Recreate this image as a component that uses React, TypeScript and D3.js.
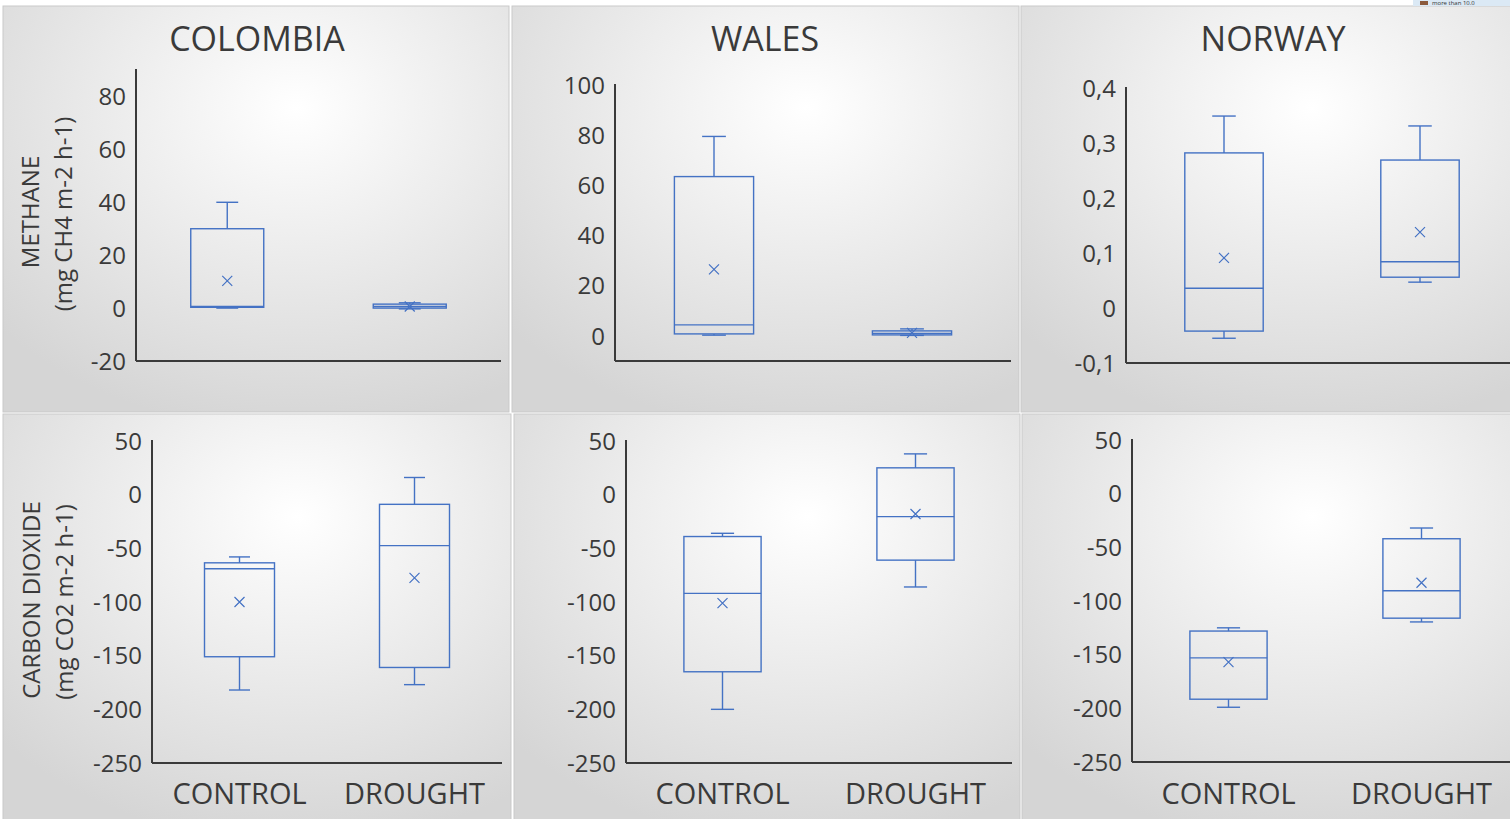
import * as d3 from "d3";

type Stat = { min: number; q1: number; median: number; q3: number; max: number; mean: number };

const countries = ["COLOMBIA", "WALES", "NORWAY"];
const categories = ["CONTROL", "DROUGHT"];

// methane (mg CH4 m-2 h-1)
const methaneColombia: Stat[] = [
  { min: 0, q1: 0.3, median: 0.6, q3: 30, max: 40, mean: 10.3 },
  { min: -0.3, q1: 0, median: 0.6, q3: 1.5, max: 2, mean: 0.6 },
];
const methaneWales: Stat[] = [
  { min: 0.3, q1: 0.8, median: 4.4, q3: 63.5, max: 79.5, mean: 26.5 },
  { min: 0.2, q1: 0.4, median: 1.0, q3: 2.0, max: 2.8, mean: 1.2 },
];
const methaneNorway: Stat[] = [
  { min: -0.055, q1: -0.042, median: 0.036, q3: 0.282, max: 0.349, mean: 0.091 },
  { min: 0.047, q1: 0.056, median: 0.084, q3: 0.269, max: 0.331, mean: 0.138 },
];

// carbon dioxide (mg CO2 m-2 h-1)
const co2Colombia: Stat[] = [
  { min: -182, q1: -151, median: -69, q3: -63.5, max: -58, mean: -100 },
  { min: -177, q1: -161, median: -47.5, q3: -9, max: 16, mean: -77.5 },
];
const co2Wales: Stat[] = [
  { min: -200, q1: -165, median: -92, q3: -39, max: -36, mean: -101 },
  { min: -86, q1: -61, median: -20.5, q3: 25, max: 38, mean: -18 },
];
const co2Norway: Stat[] = [
  { min: -199, q1: -191.5, median: -153, q3: -128, max: -125, mean: -157 },
  { min: -119.5, q1: -116, median: -90.5, q3: -42, max: -32, mean: -83 },
];

const ticksColombiaCH4 = [-20, 0, 20, 40, 60, 80];
const ticksWalesCH4 = [0, 20, 40, 60, 80, 100];
const ticksNorwayCH4 = [-0.1, 0, 0.1, 0.2, 0.3, 0.4];
const ticksCO2 = [-250, -200, -150, -100, -50, 0, 50];

const FONT = "'Open Sans', sans-serif";
const TEXT = "#3a3a3a";
const BLUE = "#4472C4";

type Panel = {
  id: string;
  frame: [number, number, number, number]; // x, y, w, h
  plot: [number, number, number, number]; // x0, x1, yTop, yBottom
  domain: [number, number];
  ticks: number[];
  stats: Stat[];
  title?: string;
  titleX?: number;
  showCats?: boolean;
  decimalComma?: boolean;
};

const panels: Panel[] = [
  { id: "p1", frame: [3, 6, 506, 406], plot: [136, 501, 70, 361], domain: [-20, 90], ticks: ticksColombiaCH4, stats: methaneColombia, title: countries[0], titleX: 257 },
  { id: "p2", frame: [512, 6, 507, 406], plot: [615, 1011, 85, 361], domain: [-10, 100], ticks: ticksWalesCH4, stats: methaneWales, title: countries[1], titleX: 765 },
  { id: "p3", frame: [1021, 6, 500, 406], plot: [1126, 1518, 88, 363], domain: [-0.1, 0.4], ticks: ticksNorwayCH4, stats: methaneNorway, title: countries[2], titleX: 1273, decimalComma: true },
  { id: "p4", frame: [3, 414, 508, 410], plot: [152, 502, 441, 763], domain: [-250, 50], ticks: ticksCO2, stats: co2Colombia, showCats: true },
  { id: "p5", frame: [514, 414, 506, 410], plot: [626, 1012, 441, 763], domain: [-250, 50], ticks: ticksCO2, stats: co2Wales, showCats: true },
  { id: "p6", frame: [1022, 414, 500, 410], plot: [1132, 1518, 440, 762], domain: [-250, 50], ticks: ticksCO2, stats: co2Norway, showCats: true },
];

function BoxPanel({ p }: { p: Panel }) {
  const [fx, fy, fw, fh] = p.frame;
  const [x0, x1, yT, yB] = p.plot;
  const y = d3.scaleLinear().domain(p.domain).range([yB, yT]);
  const x = d3.scaleBand<string>().domain(categories).range([x0, x1]);
  const bw = x.bandwidth() * 0.4;
  const cap = bw * 0.3;
  const fmt = (d: number) => {
    const s = d3.format("~g")(d).replace("\u2212", "-");
    return p.decimalComma ? s.replace(".", ",") : s;
  };
  return (
    <g>
      <defs>
        <radialGradient id={`bg-${p.id}`} cx="58%" cy="25%" r="80%">
          <stop offset="0%" stopColor="#ffffff" />
          <stop offset="100%" stopColor="#d5d5d5" />
        </radialGradient>
      </defs>
      <rect x={fx} y={fy} width={fw} height={fh} fill={`url(#bg-${p.id})`} stroke="#c9c9c9" strokeWidth={1} />
      {p.title && (
        <text x={p.titleX} y={51} textAnchor="middle" fontFamily={FONT} fontSize={34} fill={TEXT}>
          {p.title}
        </text>
      )}
      {p.ticks.map((t) => (
        <text key={t} x={x0 - 10} y={y(t)} dy="0.36em" textAnchor="end" fontFamily={FONT} fontSize={24} fill={TEXT}>
          {fmt(t)}
        </text>
      ))}
      {p.stats.map((s, i) => {
        const c = x(categories[i])! + x.bandwidth() / 2;
        const m = 5;
        return (
          <g key={i} stroke={BLUE} strokeWidth={1.4} fill="none">
            <line x1={c} x2={c} y1={y(s.q3)} y2={y(s.max)} />
            <line x1={c} x2={c} y1={y(s.q1)} y2={y(s.min)} />
            <line x1={c - cap / 2} x2={c + cap / 2} y1={y(s.max)} y2={y(s.max)} />
            <line x1={c - cap / 2} x2={c + cap / 2} y1={y(s.min)} y2={y(s.min)} />
            <rect x={c - bw / 2} y={y(s.q3)} width={bw} height={Math.max(1, y(s.q1) - y(s.q3))} />
            <line x1={c - bw / 2} x2={c + bw / 2} y1={y(s.median)} y2={y(s.median)} />
            <path d={`M${c - m},${y(s.mean) - m}L${c + m},${y(s.mean) + m}M${c - m},${y(s.mean) + m}L${c + m},${y(s.mean) - m}`} strokeWidth={1.2} />
          </g>
        );
      })}
      <line x1={x0} x2={x0} y1={yT - 1} y2={yB} stroke={TEXT} strokeWidth={2} />
      <line x1={x0} x2={x1} y1={yB} y2={yB} stroke={TEXT} strokeWidth={2} />
      {p.showCats &&
        categories.map((cat) => (
          <text key={cat} x={x(cat)! + x.bandwidth() / 2} y={804} textAnchor="middle" fontFamily={FONT} fontSize={29} fill={TEXT}>
            {cat}
          </text>
        ))}
    </g>
  );
}

export default function App() {
  return (
    <svg width={1510} height={819} style={{ position: "absolute", left: 0, top: 0, background: "#ffffff" }}>
      {panels.map((p) => (
        <BoxPanel key={p.id} p={p} />
      ))}
      {/* y-axis titles */}
      <g fontFamily={FONT} fontSize={24} fill={TEXT} textAnchor="middle">
        <text transform="translate(39,212) rotate(-90)">METHANE</text>
        <text transform="translate(72,214) rotate(-90)">(mg CH4 m-2 h-1)</text>
        <text transform="translate(40,600) rotate(-90)">CARBON DIOXIDE</text>
        <text transform="translate(73,602) rotate(-90)">(mg CO2 m-2 h-1)</text>
      </g>
      {/* cropped legend fragment at the top edge */}
      <rect x={1413} y={0} width={97} height={6} fill="#dbe9f5" />
      <rect x={1420} y={1} width={8} height={4} fill="#8b5a3c" />
      <text x={1432} y={5} fontFamily={FONT} fontSize={6} fill="#333">more than 10.0</text>
    </svg>
  );
}
